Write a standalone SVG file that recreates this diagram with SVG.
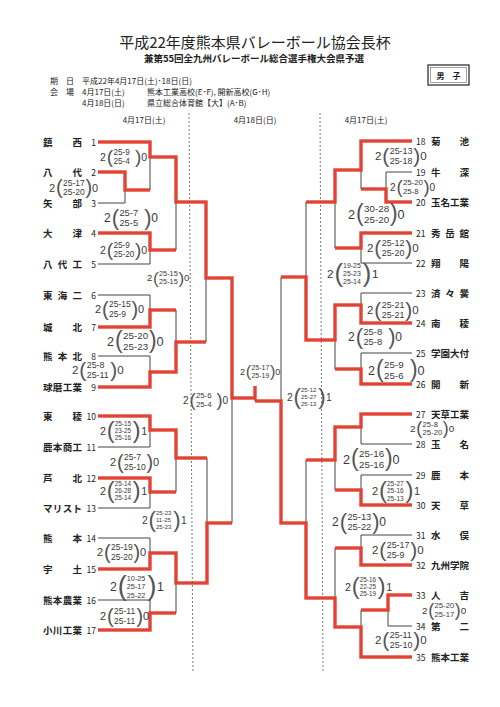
<svg xmlns="http://www.w3.org/2000/svg" width="500" height="707" viewBox="0 0 500 707">
<style>
text{font-family:"Noto Sans CJK JP","Liberation Sans",sans-serif;fill:#222}
.h1{font-size:15px;text-anchor:middle}
.h2{font-size:9.5px;font-weight:bold;text-anchor:middle}
.info{font-size:8px}
.dt{font-size:8px;text-anchor:middle}
.tn{font-size:9.5px;font-weight:bold}
.nl{font-size:8.5px;text-anchor:end}
.nr{font-size:8.5px}
.ln{stroke:#444;stroke-width:1;fill:none}
.rd{stroke:#e53b2b;stroke-width:3.5;fill:none;stroke-linejoin:miter;opacity:0.9}
.dash{stroke:#555;stroke-width:0.8;stroke-dasharray:2 2;fill:none}
.s text{font-family:"Liberation Sans",sans-serif;fill:#3a3a3a}
.s .sn{font-size:11px}
.s .sp{font-size:20px;fill:#555}
.s .sc{font-size:8.5px}
.s .sp3{font-size:24px;fill:#555}
.s .sc3{font-size:6.5px}
</style>
<rect width="500" height="707" fill="#ffffff"/>

<g id="header">
<text class="h1" x="255" y="47.5">平成22年度熊本県バレーボール協会長杯</text>
<text class="h2" x="254" y="61.5">兼第55回全九州バレーボール総合選手権大会県予選</text>
<text class="info" x="50" y="84">期　日</text>
<text class="info" x="82" y="84">平成22年4月17日(土)･18日(日)</text>
<text class="info" x="50" y="95">会　場</text>
<text class="info" x="82" y="95">4月17日(土)</text>
<text class="info" x="147" y="95">熊本工業高校(E･F), 開新高校(G･H)</text>
<text class="info" x="82" y="106">4月18日(日)</text>
<text class="info" x="147" y="106">県立総合体育館【大】(A･B)</text>
<rect x="428" y="65" width="41" height="20" fill="none" stroke="#333" stroke-width="1.3"/>
<rect x="430.5" y="67.5" width="36" height="15" fill="none" stroke="#666" stroke-width="0.6"/>
<text class="dt" x="448.5" y="78.5" font-weight="bold">男　子</text>
<text class="dt" x="144" y="123">4月17日(土)</text>
<text class="dt" x="255" y="123">4月18日(日)</text>
<text class="dt" x="366" y="123">4月17日(土)</text>
<line class="dash" x1="189" y1="113" x2="193" y2="672"/>
<line class="dash" x1="320" y1="113" x2="323" y2="672"/>
</g>

<g id="connectors">
<path class="ln" d="M98 142H150 M98 172H125 M98 203H125 M98 233H150 M98 264H150 M98 295H150 M98 327H150 M98 356H150 M98 387H150 M98 416H150 M98 447H150 M98 478H150 M98 508H150 M98 538H150 M98 569H150 M98 600H150 M98 630H150
M125 172V203 M125 190H150 M150 142V190 M150 157H176 M150 233V264 M150 250H176 M176 157V250 M176 202H206 M150 295V327 M150 310H176 M150 356V387 M150 372H176 M176 310V372 M176 342H206 M206 202V342 M206 278H232 M150 416V447 M150 430H176 M150 478V508 M150 492H176 M176 430V492 M176 458H207 M150 538V569 M150 553H176 M150 600V630 M150 613H176 M176 553V613 M176 583H207 M207 458V583 M207 523H232 M232 278V523 M232 398H255 M255 386V401 M255 401H281"/>
<path class="ln" d="M361 141H412 M386 172H412 M386 202H412 M361 233H412 M361 263H412 M361 293H412 M361 323H412 M361 353H412 M361 384H412 M361 414H412 M361 444H412 M361 475H412 M361 505H412 M361 535H412 M361 565H412 M388 595H412 M388 626H412 M361 657H412
M386 172V202 M386 189H361 M361 141V189 M361 170H335 M361 233V263 M361 248H335 M335 170V248 M335 202H306 M361 293V323 M361 305H335 M361 353V384 M361 369H335 M335 305V369 M335 340H306 M306 202V340 M306 277H281 M361 414V444 M361 427H335 M361 475V505 M361 490H335 M335 427V490 M335 460H306 M361 535V565 M361 548H335 M388 595V626 M388 610H361 M361 610V657 M361 627H335 M335 548V627 M335 598H306 M306 460V598 M306 523H281 M281 277V523"/>
<g id="red-paths">
<path class="rd" d="M98 142H150V157H176V202H206V278H232V398H255V386"/>
<path class="rd" d="M98 172H125V190H150"/>
<path class="rd" d="M98 233H150V250H176"/>
<path class="rd" d="M98 327H150V310H176"/>
<path class="rd" d="M98 387H150V372H176V342H206"/>
<path class="rd" d="M98 416H150V430H176V458H207"/>
<path class="rd" d="M98 478H150V492H176"/>
<path class="rd" d="M98 569H150V553H176V583H207V523H232"/>
<path class="rd" d="M98 630H150V613H176"/>
<path class="rd" d="M412 141H361V170H335V202H306"/>
<path class="rd" d="M412 202H386V189H361"/>
<path class="rd" d="M412 233H361V248H335"/>
<path class="rd" d="M412 323H361V305H335V340H306V277H281"/>
<path class="rd" d="M412 384H361V369H335"/>
<path class="rd" d="M412 414H361V427H335V460H306"/>
<path class="rd" d="M412 505H361V490H335"/>
<path class="rd" d="M412 565H361V548H335"/>
<path class="rd" d="M412 595H388V610H361"/>
<path class="rd" d="M412 657H361V627H335V598H306V523H281V401H255"/>
</g>
</g>

<g id="teams-left">
<g id="t1"><text class="tn" x="43" y="145.5" textLength="39" lengthAdjust="spacing">鎮西</text><text class="nl" x="96" y="145.5">1</text></g>
<g id="t2"><text class="tn" x="43" y="175.5" textLength="39" lengthAdjust="spacing">八代</text><text class="nl" x="96" y="175.5">2</text></g>
<g id="t3"><text class="tn" x="43" y="206.5" textLength="39" lengthAdjust="spacing">矢部</text><text class="nl" x="96" y="206.5">3</text></g>
<g id="t4"><text class="tn" x="43" y="236.5" textLength="39" lengthAdjust="spacing">大津</text><text class="nl" x="96" y="236.5">4</text></g>
<g id="t5"><text class="tn" x="43" y="267.5" textLength="39" lengthAdjust="spacing">八代工</text><text class="nl" x="96" y="267.5">5</text></g>
<g id="t6"><text class="tn" x="43" y="298.5" textLength="39" lengthAdjust="spacing">東海二</text><text class="nl" x="96" y="298.5">6</text></g>
<g id="t7"><text class="tn" x="43" y="330.5" textLength="39" lengthAdjust="spacing">城北</text><text class="nl" x="96" y="330.5">7</text></g>
<g id="t8"><text class="tn" x="43" y="359.5" textLength="39" lengthAdjust="spacing">熊本北</text><text class="nl" x="96" y="359.5">8</text></g>
<g id="t9"><text class="tn" x="43" y="390.5" textLength="39" lengthAdjust="spacing">球磨工業</text><text class="nl" x="96" y="390.5">9</text></g>
<g id="t10"><text class="tn" x="43" y="419.5" textLength="39" lengthAdjust="spacing">東稜</text><text class="nl" x="96" y="419.5">10</text></g>
<g id="t11"><text class="tn" x="43" y="450.5" textLength="39" lengthAdjust="spacing">鹿本商工</text><text class="nl" x="96" y="450.5">11</text></g>
<g id="t12"><text class="tn" x="43" y="481.5" textLength="39" lengthAdjust="spacing">芦北</text><text class="nl" x="96" y="481.5">12</text></g>
<g id="t13"><text class="tn" x="43" y="511.5" textLength="39" lengthAdjust="spacing">マリスト</text><text class="nl" x="96" y="511.5">13</text></g>
<g id="t14"><text class="tn" x="43" y="541.5" textLength="39" lengthAdjust="spacing">熊本</text><text class="nl" x="96" y="541.5">14</text></g>
<g id="t15"><text class="tn" x="43" y="572.5" textLength="39" lengthAdjust="spacing">宇土</text><text class="nl" x="96" y="572.5">15</text></g>
<g id="t16"><text class="tn" x="43" y="603.5" textLength="39" lengthAdjust="spacing">熊本農業</text><text class="nl" x="96" y="603.5">16</text></g>
<g id="t17"><text class="tn" x="43" y="633.5" textLength="39" lengthAdjust="spacing">小川工業</text><text class="nl" x="96" y="633.5">17</text></g>
</g>

<g id="teams-right">
<g id="t18"><text class="nr" x="416" y="144.5">18</text><text class="tn" x="431" y="144.5" textLength="38" lengthAdjust="spacing">菊池</text></g>
<g id="t19"><text class="nr" x="416" y="175.5">19</text><text class="tn" x="431" y="175.5" textLength="38" lengthAdjust="spacing">牛深</text></g>
<g id="t20"><text class="nr" x="416" y="205.5">20</text><text class="tn" x="431" y="205.5" textLength="38" lengthAdjust="spacing">玉名工業</text></g>
<g id="t21"><text class="nr" x="416" y="236.5">21</text><text class="tn" x="431" y="236.5" textLength="38" lengthAdjust="spacing">秀岳館</text></g>
<g id="t22"><text class="nr" x="416" y="266.5">22</text><text class="tn" x="431" y="266.5" textLength="38" lengthAdjust="spacing">翔陽</text></g>
<g id="t23"><text class="nr" x="416" y="296.5">23</text><text class="tn" x="431" y="296.5" textLength="38" lengthAdjust="spacing">済々黌</text></g>
<g id="t24"><text class="nr" x="416" y="326.5">24</text><text class="tn" x="431" y="326.5" textLength="38" lengthAdjust="spacing">南稜</text></g>
<g id="t25"><text class="nr" x="416" y="356.5">25</text><text class="tn" x="431" y="356.5" textLength="38" lengthAdjust="spacing">学園大付</text></g>
<g id="t26"><text class="nr" x="416" y="387.5">26</text><text class="tn" x="431" y="387.5" textLength="38" lengthAdjust="spacing">開新</text></g>
<g id="t27"><text class="nr" x="416" y="417.5">27</text><text class="tn" x="431" y="417.5" textLength="38" lengthAdjust="spacing">天草工業</text></g>
<g id="t28"><text class="nr" x="416" y="447.5">28</text><text class="tn" x="431" y="447.5" textLength="38" lengthAdjust="spacing">玉名</text></g>
<g id="t29"><text class="nr" x="416" y="478.5">29</text><text class="tn" x="431" y="478.5" textLength="38" lengthAdjust="spacing">鹿本</text></g>
<g id="t30"><text class="nr" x="416" y="508.5">30</text><text class="tn" x="431" y="508.5" textLength="38" lengthAdjust="spacing">天草</text></g>
<g id="t31"><text class="nr" x="416" y="538.5">31</text><text class="tn" x="431" y="538.5" textLength="38" lengthAdjust="spacing">水俣</text></g>
<g id="t32"><text class="nr" x="416" y="568.5">32</text><text class="tn" x="431" y="568.5" textLength="38" lengthAdjust="spacing">九州学院</text></g>
<g id="t33"><text class="nr" x="416" y="598.5">33</text><text class="tn" x="431" y="598.5" textLength="38" lengthAdjust="spacing">人吉</text></g>
<g id="t34"><text class="nr" x="416" y="629.5">34</text><text class="tn" x="431" y="629.5" textLength="38" lengthAdjust="spacing">第二</text></g>
<g id="t35"><text class="nr" x="416" y="660.5">35</text><text class="tn" x="431" y="660.5" textLength="38" lengthAdjust="spacing">熊本工業</text></g>
</g>

<g id="scores" class="s">
<g transform="translate(100,157) scale(0.96)"><text class="sn" x="0" y="4">2</text><text class="sp" x="7" y="6.5">(</text><text class="sc" x="14" y="-2">25-9</text><text class="sc" x="14" y="7.5">25-4</text><text class="sp" x="36.5" y="6.5">)</text><text class="sn" x="43" y="4">0</text></g>
<g transform="translate(49,187.5) scale(1.0)"><text class="sn" x="0" y="4">2</text><text class="sp" x="7" y="6.5">(</text><text class="sc" x="14" y="-2">25-17</text><text class="sc" x="14" y="7.5">25-20</text><text class="sp" x="36.5" y="6.5">)</text><text class="sn" x="43" y="4">0</text></g>
<g transform="translate(100,250) scale(0.96)"><text class="sn" x="0" y="4">2</text><text class="sp" x="7" y="6.5">(</text><text class="sc" x="14" y="-2">25-9</text><text class="sc" x="14" y="7.5">25-20</text><text class="sp" x="36.5" y="6.5">)</text><text class="sn" x="43" y="4">0</text></g>
<g transform="translate(104,218) scale(1.1)"><text class="sn" x="0" y="4">2</text><text class="sp" x="7" y="6.5">(</text><text class="sc" x="14" y="-2">25-7</text><text class="sc" x="14" y="7.5">25-5</text><text class="sp" x="36.5" y="6.5">)</text><text class="sn" x="43" y="4">0</text></g>
<g transform="translate(95,309) scale(1.0)"><text class="sn" x="0" y="4">2</text><text class="sp" x="7" y="6.5">(</text><text class="sc" x="14" y="-2">25-15</text><text class="sc" x="14" y="7.5">25-9</text><text class="sp" x="36.5" y="6.5">)</text><text class="sn" x="43" y="4">0</text></g>
<g transform="translate(72,370) scale(1.05)"><text class="sn" x="0" y="4">2</text><text class="sp" x="7" y="6.5">(</text><text class="sc" x="14" y="-2">25-8</text><text class="sc" x="14" y="7.5">25-11</text><text class="sp" x="36.5" y="6.5">)</text><text class="sn" x="43" y="4">0</text></g>
<g transform="translate(107,341) scale(1.15)"><text class="sn" x="0" y="4">2</text><text class="sp" x="7" y="6.5">(</text><text class="sc" x="14" y="-2">25-20</text><text class="sc" x="14" y="7.5">25-23</text><text class="sp" x="36.5" y="6.5">)</text><text class="sn" x="43" y="4">0</text></g>
<g transform="translate(147,278) scale(0.86)"><text class="sn" x="0" y="4">2</text><text class="sp" x="7" y="6.5">(</text><text class="sc" x="14" y="-2">25-15</text><text class="sc" x="14" y="7.5">25-15</text><text class="sp" x="36.5" y="6.5">)</text><text class="sn" x="43" y="4">0</text></g>
<g transform="translate(100,431) scale(0.98)"><text class="sn" x="0" y="4">2</text><text class="sp3" x="7" y="7">(</text><text class="sc3" x="15" y="-5.5">25-15</text><text class="sc3" x="15" y="2">23-25</text><text class="sc3" x="15" y="9.5">25-16</text><text class="sp3" x="33.5" y="7">)</text><text class="sn" x="42" y="4">1</text></g>
<g transform="translate(100,491) scale(0.98)"><text class="sn" x="0" y="4">2</text><text class="sp3" x="7" y="7">(</text><text class="sc3" x="15" y="-5.5">25-14</text><text class="sc3" x="15" y="2">26-28</text><text class="sc3" x="15" y="9.5">25-14</text><text class="sp3" x="33.5" y="7">)</text><text class="sn" x="42" y="4">1</text></g>
<g transform="translate(110,462) scale(1.0)"><text class="sn" x="0" y="4">2</text><text class="sp" x="7" y="6.5">(</text><text class="sc" x="14" y="-2">25-7</text><text class="sc" x="14" y="7.5">25-10</text><text class="sp" x="36.5" y="6.5">)</text><text class="sn" x="43" y="4">0</text></g>
<g transform="translate(97,552) scale(1.0)"><text class="sn" x="0" y="4">2</text><text class="sp" x="7" y="6.5">(</text><text class="sc" x="14" y="-2">25-19</text><text class="sc" x="14" y="7.5">25-20</text><text class="sp" x="36.5" y="6.5">)</text><text class="sn" x="43" y="4">0</text></g>
<g transform="translate(100,616) scale(1.0)"><text class="sn" x="0" y="4">2</text><text class="sp" x="7" y="6.5">(</text><text class="sc" x="14" y="-2">25-11</text><text class="sc" x="14" y="7.5">25-11</text><text class="sp" x="36.5" y="6.5">)</text><text class="sn" x="43" y="4">0</text></g>
<g transform="translate(110,587) scale(1.12)"><text class="sn" x="0" y="4">2</text><text class="sp3" x="7" y="7">(</text><text class="sc3" x="15" y="-5.5">10-25</text><text class="sc3" x="15" y="2">25-17</text><text class="sc3" x="15" y="9.5">25-22</text><text class="sp3" x="33.5" y="7">)</text><text class="sn" x="42" y="4">1</text></g>
<g transform="translate(142,520) scale(0.93)"><text class="sn" x="0" y="4">2</text><text class="sp3" x="7" y="7">(</text><text class="sc3" x="15" y="-5.5">25-23</text><text class="sc3" x="15" y="2">11-25</text><text class="sc3" x="15" y="9.5">25-23</text><text class="sp3" x="33.5" y="7">)</text><text class="sn" x="42" y="4">1</text></g>
<g transform="translate(183,400) scale(0.92)"><text class="sn" x="0" y="4">2</text><text class="sp" x="7" y="6.5">(</text><text class="sc" x="14" y="-2">25-6</text><text class="sc" x="14" y="7.5">25-4</text><text class="sp" x="36.5" y="6.5">)</text><text class="sn" x="43" y="4">0</text></g>
<g transform="translate(240,372) scale(0.82)"><text class="sn" x="0" y="4">2</text><text class="sp" x="7" y="6.5">(</text><text class="sc" x="14" y="-2">25-17</text><text class="sc" x="14" y="7.5">25-19</text><text class="sp" x="36.5" y="6.5">)</text><text class="sn" x="43" y="4">0</text></g>

<g transform="translate(375,156) scale(1.05)"><text class="sn" x="0" y="4">2</text><text class="sp" x="7" y="6.5">(</text><text class="sc" x="14" y="-2">25-13</text><text class="sc" x="14" y="7.5">25-18</text><text class="sp" x="36.5" y="6.5">)</text><text class="sn" x="43" y="4">0</text></g>
<g transform="translate(390,187) scale(0.92)"><text class="sn" x="0" y="4">2</text><text class="sp" x="7" y="6.5">(</text><text class="sc" x="14" y="-2">25-20</text><text class="sc" x="14" y="7.5">25-8</text><text class="sp" x="36.5" y="6.5">)</text><text class="sn" x="43" y="4">0</text></g>
<g transform="translate(348,214) scale(1.15)"><text class="sn" x="0" y="4">2</text><text class="sp" x="7" y="6.5">(</text><text class="sc" x="14" y="-2">30-28</text><text class="sc" x="14" y="7.5">25-20</text><text class="sp" x="36.5" y="6.5">)</text><text class="sn" x="43" y="4">0</text></g>
<g transform="translate(367,248) scale(1.05)"><text class="sn" x="0" y="4">2</text><text class="sp" x="7" y="6.5">(</text><text class="sc" x="14" y="-2">25-12</text><text class="sc" x="14" y="7.5">25-20</text><text class="sp" x="36.5" y="6.5">)</text><text class="sn" x="43" y="4">0</text></g>
<g transform="translate(327,274) scale(1.07)"><text class="sn" x="0" y="4">2</text><text class="sp3" x="7" y="7">(</text><text class="sc3" x="15" y="-5.5">19-25</text><text class="sc3" x="15" y="2">25-23</text><text class="sc3" x="15" y="9.5">25-14</text><text class="sp3" x="33.5" y="7">)</text><text class="sn" x="42" y="4">1</text></g>
<g transform="translate(367,310) scale(1.05)"><text class="sn" x="0" y="4">2</text><text class="sp" x="7" y="6.5">(</text><text class="sc" x="14" y="-2">25-21</text><text class="sc" x="14" y="7.5">25-21</text><text class="sp" x="36.5" y="6.5">)</text><text class="sn" x="43" y="4">0</text></g>
<g transform="translate(348,337) scale(1.1)"><text class="sn" x="0" y="4">2</text><text class="sp" x="7" y="6.5">(</text><text class="sc" x="14" y="-2">25-8</text><text class="sc" x="14" y="7.5">25-8</text><text class="sp" x="36.5" y="6.5">)</text><text class="sn" x="43" y="4">0</text></g>
<g transform="translate(368,370) scale(1.15)"><text class="sn" x="0" y="4">2</text><text class="sp" x="7" y="6.5">(</text><text class="sc" x="14" y="-2">25-9</text><text class="sc" x="14" y="7.5">25-6</text><text class="sp" x="36.5" y="6.5">)</text><text class="sn" x="43" y="4">0</text></g>
<g transform="translate(287,397) scale(0.93)"><text class="sn" x="0" y="4">2</text><text class="sp3" x="7" y="7">(</text><text class="sc3" x="15" y="-5.5">25-12</text><text class="sc3" x="15" y="2">25-27</text><text class="sc3" x="15" y="9.5">25-13</text><text class="sp3" x="33.5" y="7">)</text><text class="sn" x="42" y="4">1</text></g>
<g transform="translate(410,428.5) scale(0.9)"><text class="sn" x="0" y="4">2</text><text class="sp" x="7" y="6.5">(</text><text class="sc" x="14" y="-2">25-8</text><text class="sc" x="14" y="7.5">25-20</text><text class="sp" x="36.5" y="6.5">)</text><text class="sn" x="43" y="4">0</text></g>
<g transform="translate(343,459) scale(1.15)"><text class="sn" x="0" y="4">2</text><text class="sp" x="7" y="6.5">(</text><text class="sc" x="14" y="-2">25-16</text><text class="sc" x="14" y="7.5">25-16</text><text class="sp" x="36.5" y="6.5">)</text><text class="sn" x="43" y="4">0</text></g>
<g transform="translate(372,491) scale(1.0)"><text class="sn" x="0" y="4">2</text><text class="sp3" x="7" y="7">(</text><text class="sc3" x="15" y="-5.5">25-27</text><text class="sc3" x="15" y="2">25-16</text><text class="sc3" x="15" y="9.5">25-13</text><text class="sp3" x="33.5" y="7">)</text><text class="sn" x="42" y="4">1</text></g>
<g transform="translate(332,522) scale(1.1)"><text class="sn" x="0" y="4">2</text><text class="sp" x="7" y="6.5">(</text><text class="sc" x="14" y="-2">25-13</text><text class="sc" x="14" y="7.5">25-22</text><text class="sp" x="36.5" y="6.5">)</text><text class="sn" x="43" y="4">0</text></g>
<g transform="translate(372,550) scale(1.05)"><text class="sn" x="0" y="4">2</text><text class="sp" x="7" y="6.5">(</text><text class="sc" x="14" y="-2">25-17</text><text class="sc" x="14" y="7.5">25-9</text><text class="sp" x="36.5" y="6.5">)</text><text class="sn" x="43" y="4">0</text></g>
<g transform="translate(345,587) scale(0.98)"><text class="sn" x="0" y="4">2</text><text class="sp3" x="7" y="7">(</text><text class="sc3" x="15" y="-5.5">25-16</text><text class="sc3" x="15" y="2">22-25</text><text class="sc3" x="15" y="9.5">25-19</text><text class="sp3" x="33.5" y="7">)</text><text class="sn" x="42" y="4">1</text></g>
<g transform="translate(422,610) scale(0.9)"><text class="sn" x="0" y="4">2</text><text class="sp" x="7" y="6.5">(</text><text class="sc" x="14" y="-2">25-20</text><text class="sc" x="14" y="7.5">25-17</text><text class="sp" x="36.5" y="6.5">)</text><text class="sn" x="43" y="4">0</text></g>
<g transform="translate(375,640) scale(1.05)"><text class="sn" x="0" y="4">2</text><text class="sp" x="7" y="6.5">(</text><text class="sc" x="14" y="-2">25-11</text><text class="sc" x="14" y="7.5">25-10</text><text class="sp" x="36.5" y="6.5">)</text><text class="sn" x="43" y="4">0</text></g>
</g>
</svg>
